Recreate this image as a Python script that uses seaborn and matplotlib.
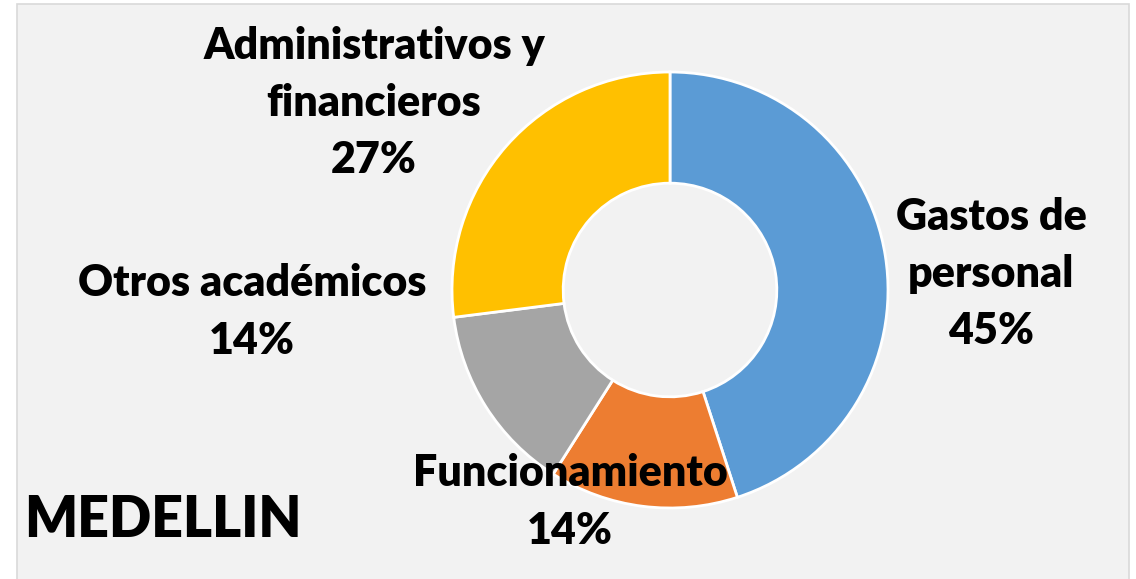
import matplotlib
matplotlib.use("Agg")
import matplotlib.pyplot as plt
import seaborn as sns
from matplotlib.patches import Rectangle

sns.set_theme(style="white")
plt.rcParams['font.family'] = ['Lato', 'DejaVu Sans']

# Data
categories = ["Gastos de\npersonal", "Funcionamiento", "Otros académicos", "Administrativos y\nfinancieros"]
values = [45, 14, 14, 27]
colors = ["#5B9BD5", "#ED7D31", "#A5A5A5", "#FFC000"]
title = "MEDELLIN"

W, H = 1136, 579
CX, CY, R = 670, 290, 218  # pixel geometry of donut (layout)

fig = plt.figure(figsize=(W / 100, H / 100), dpi=100)
fig.patch.set_facecolor("white")
fig.patches.append(Rectangle((17 / W, -0.01), (1129 - 17) / W, (H - 4) / H + 0.01,
                             transform=fig.transFigure, facecolor="#F2F2F2",
                             edgecolor="#D9D9D9", linewidth=1.2, zorder=-5))

ax = fig.add_axes([0, 0, 1, 1])
ax.set_facecolor("none")
ax.pie(values, colors=sns.color_palette(colors), startangle=90, counterclock=False,
       radius=1.0, wedgeprops=dict(width=0.51, edgecolor="white", linewidth=2.0))
ax.set_xlim(-CX / R, (W - CX) / R)
ax.set_ylim(-(H - CY) / R, CY / R)
ax.set_aspect("equal")
ax.axis("off")


def px(x, y):
    return (x - CX) / R, (CY - y) / R


label_pos = [(991, 274), (570, 502), (252, 312), (374, 103)]
total = sum(values)
for cat, v, (x, y) in zip(categories, values, label_pos):
    dx, dy = px(x, y)
    ax.text(dx, dy, f"{cat}\n{round(100 * v / total)}%", ha="center", va="center",
            fontsize=31, fontweight="heavy", color="black", linespacing=1.52)

tx, ty = px(24, 520)
ax.text(tx, ty, title, ha="left", va="center", fontsize=40, fontweight="heavy", color="black")

fig.savefig("out.png", dpi=100, facecolor=fig.get_facecolor())
